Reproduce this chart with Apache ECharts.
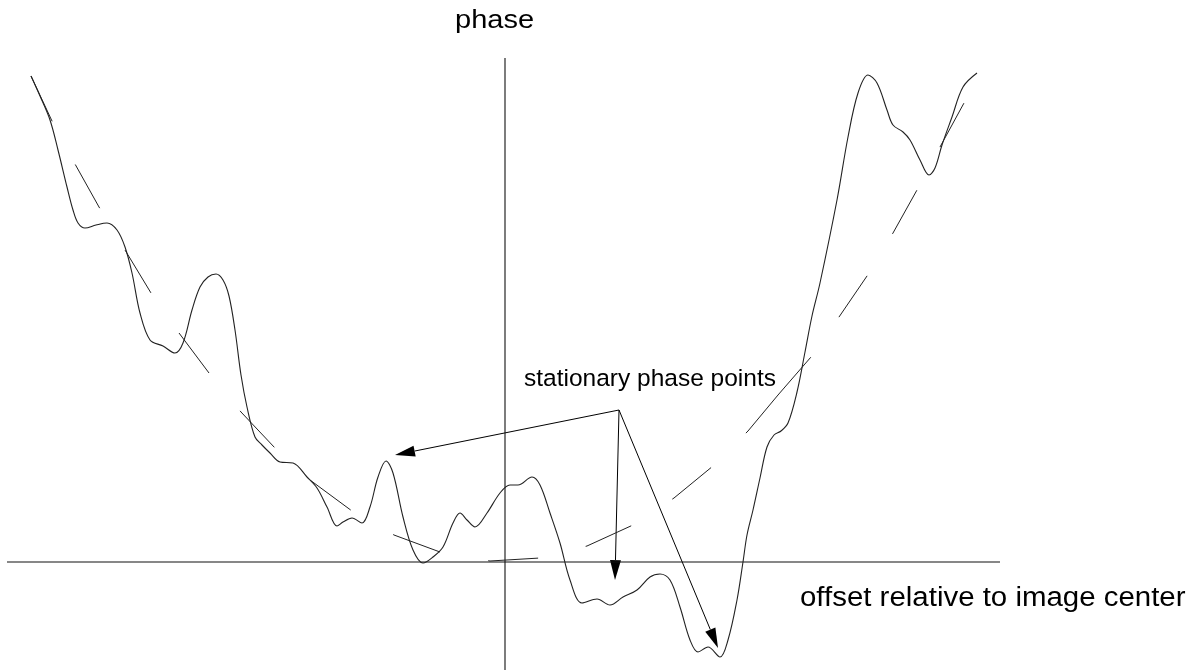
<!DOCTYPE html>
<html>
<head>
<meta charset="utf-8">
<script src="https://cdn.jsdelivr.net/npm/echarts@6/dist/echarts.min.js"></script>
<style>
  html, body { margin: 0; padding: 0; background: #fff; }
  #chart { width: 1203px; height: 671px; }
</style>
</head>
<body>
<div id="chart"></div>
<script>
// Measured phase versus offset relative to the image center: [offset, phase]
const phaseCurve = [
  [-474, 486], [-465, 466], [-455, 442], [-447, 412], [-438, 375], [-432, 352],
  [-427, 339], [-420, 334], [-409, 337], [-398, 339], [-388, 332], [-380, 315],
  [-373, 289], [-365, 249], [-355, 222], [-342, 216], [-330, 209], [-322, 219],
  [-313, 252], [-305, 275], [-297, 285], [-289, 288], [-282, 282], [-276, 266],
  [-270, 232], [-264, 187], [-258, 155], [-250, 125], [-243, 117], [-235, 109],
  [-225, 100], [-212, 99], [-198, 85], [-188, 74], [-178, 55], [-168, 36],
  [-162, 40], [-153, 44], [-143, 39], [-135, 55], [-127, 85], [-119, 101],
  [-112, 89], [-102, 45], [-92, 12], [-82, -1], [-72, 5], [-62, 15],
  [-52, 39], [-45, 49], [-38, 42], [-30, 35], [-18, 49], [-5, 69],
  [5, 77], [13, 77], [27, 85], [35, 77], [45, 49], [55, 19],
  [65, -18], [77, -41], [92, -37], [105, -43], [118, -35], [132, -28],
  [145, -15], [155, -12], [165, -18], [175, -45], [185, -78], [193, -90],
  [203, -85], [215, -95], [223, -78], [232, -38], [238, 0], [242, 27],
  [248, 52], [255, 84], [262, 115], [269, 127], [276, 131], [283, 139],
  [292, 170], [300, 210], [307, 246], [315, 279], [332, 362], [343, 425],
  [353, 469], [363, 487], [372, 479], [382, 452], [388, 437], [398, 430],
  [405, 422], [415, 402], [424, 387], [430, 394], [437, 417], [447, 445],
  [458, 475], [472, 489]
];

// Smooth (quadratic-looking) trend, drawn dashed in two strokes
const trendLeft = [
  [-474, 486], [-453, 441], [-430, 398], [-406, 355], [-380, 312], [-354, 269],
  [-326, 229], [-296, 189], [-264, 150], [-230, 114], [-195, 82], [-153, 51],
  [-111, 27], [-65, 10], [-15, 1], [35, 4], [82, 16], [128, 37],
  [169, 64], [208, 96], [243, 131], [273, 167]
];
const trendRight = [
  [273, 167], [306, 205], [334, 245], [362, 286], [388, 329], [412, 372],
  [435, 415], [459, 459]
];

// Axis lines through the origin
const horizontalAxis = [[-498, 0], [495, 0]];
const verticalAxis = [[0, 504], [0, -108]];

// Arrows from the label anchor to the stationary phase points: [fromX, fromY, toX, toY]
const arrows = [
  [114, 152, -110, 107],
  [114, 152, 110, -18],
  [114, 152, 213, -86]
];

// Text labels
const yTitle = 'phase';
const xTitle = 'offset relative to image center';
const pointsLabel = 'stationary phase points';

const HEAD_LEN = 20;
const HEAD_HALF = 5.5;
const INK = '#000';
const FONT = '"Liberation Sans", Arial, sans-serif';

function plainLine(data, extra) {
  return Object.assign({
    type: 'line',
    data: data,
    symbol: 'none',
    silent: true,
    animation: false,
    lineStyle: { color: INK, width: 1 }
  }, extra || {});
}

const chart = echarts.init(document.getElementById('chart'), null, { renderer: 'canvas' });

chart.setOption({
  backgroundColor: '#fff',
  animation: false,
  grid: { left: 0, top: 0, width: 1203, height: 671 },
  xAxis: { type: 'value', min: -505, max: 698, show: false },
  yAxis: { type: 'value', min: -109, max: 562, show: false },
  series: [
    plainLine(horizontalAxis, { lineStyle: { color: '#111', width: 1.1 } }),
    plainLine(verticalAxis, { lineStyle: { color: '#111', width: 1.1 } }),
    plainLine(trendLeft, { lineStyle: { color: '#222', width: 1, type: [50, 49] } }),
    plainLine(trendRight, { lineStyle: { color: '#222', width: 1, type: [50, 49] } }),
    plainLine(phaseCurve, { smooth: 0.35, lineStyle: { color: '#222', width: 1.1 } }),
    {
      type: 'custom',
      silent: true,
      animation: false,
      data: arrows,
      encode: { x: [0, 2], y: [1, 3] },
      renderItem: function (params, api) {
        const a = api.coord([api.value(0), api.value(1)]);
        const b = api.coord([api.value(2), api.value(3)]);
        const dx = b[0] - a[0], dy = b[1] - a[1];
        const len = Math.hypot(dx, dy);
        const ux = dx / len, uy = dy / len;
        const bx = b[0] - ux * HEAD_LEN, by = b[1] - uy * HEAD_LEN;
        const px = -uy * HEAD_HALF, py = ux * HEAD_HALF;
        return {
          type: 'group',
          children: [
            { type: 'line', shape: { x1: a[0], y1: a[1], x2: bx, y2: by },
              style: { stroke: INK, lineWidth: 1 } },
            { type: 'polygon', shape: { points: [[b[0], b[1]], [bx + px, by + py], [bx - px, by - py]] },
              style: { fill: INK } }
          ]
        };
      }
    }
  ],
  graphic: [
    { type: 'text', x: 455, y: 9, scaleX: 1.16,
      style: { text: yTitle, fontSize: 25, fontFamily: FONT, fill: INK, verticalAlign: 'top' } },
    { type: 'text', x: 524, y: 367, scaleX: 1.0,
      style: { text: pointsLabel, fontSize: 24.5, fontFamily: FONT, fill: INK, verticalAlign: 'top' } },
    { type: 'text', x: 800, y: 585, scaleX: 1.09,
      style: { text: xTitle, fontSize: 27, fontFamily: FONT, fill: INK, verticalAlign: 'top' } }
  ]
});
</script>
</body>
</html>
